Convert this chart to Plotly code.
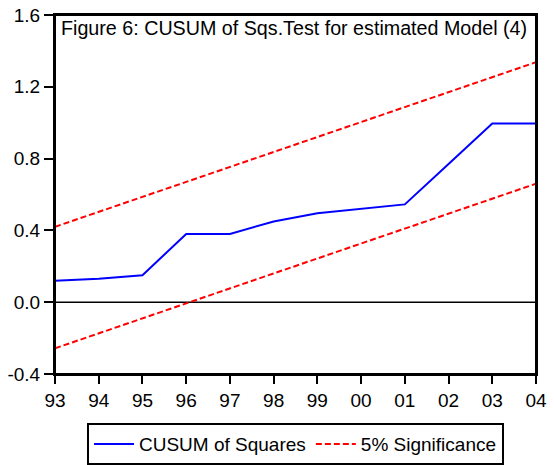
import plotly.graph_objects as go

years = [1993, 1994, 1995, 1996, 1997, 1998, 1999, 2000, 2001, 2002, 2003, 2004]
tick_labels = ["93", "94", "95", "96", "97", "98", "99", "00", "01", "02", "03", "04"]
cusum_sq = [0.12, 0.13, 0.15, 0.38, 0.38, 0.45, 0.495, 0.52, 0.545, 0.77, 0.995, 0.995]
upper_5 = [0.42, 0.503, 0.587, 0.67, 0.753, 0.837, 0.92, 1.003, 1.087, 1.17, 1.253, 1.337]
lower_5 = [-0.257, -0.173, -0.09, -0.007, 0.077, 0.16, 0.243, 0.327, 0.41, 0.493, 0.577, 0.66]
y_ticks = [-0.4, 0.0, 0.4, 0.8, 1.2, 1.6]
y_tick_labels = ["-0.4", "0.0", "0.4", "0.8", "1.2", "1.6"]

FONT = "Liberation Sans, Arial, sans-serif"

fig = go.Figure()
fig.add_trace(go.Scatter(x=years, y=cusum_sq, mode="lines", name="CUSUM of Squares",
                         line=dict(color="#0000FF", width=2)))
fig.add_trace(go.Scatter(x=years, y=upper_5, mode="lines", name="5% Significance",
                         line=dict(color="#FF0000", width=2, dash="6px,3px")))
fig.add_trace(go.Scatter(x=years, y=lower_5, mode="lines", name="5% Significance",
                         showlegend=False,
                         line=dict(color="#FF0000", width=2, dash="6px,3px")))

fig.add_hline(y=0, line=dict(color="black", width=1.5), layer="below")
# plot frame
fig.add_shape(type="rect", xref="paper", yref="paper", x0=0, x1=1, y0=0, y1=1,
              line=dict(color="black", width=2), fillcolor="rgba(0,0,0,0)",
              layer="above")

fig.update_layout(
    width=554, height=465,
    margin=dict(l=55, r=18, t=15, b=91, autoexpand=False),
    paper_bgcolor="white", plot_bgcolor="white",
    font=dict(family=FONT, color="black", size=19),
    showlegend=True,
    legend=dict(orientation="h", x=0.5, xanchor="center",
                y=0.09, yref="container", yanchor="top",
                bordercolor="black", borderwidth=2, bgcolor="white",
                font=dict(size=19, family=FONT), traceorder="normal",
                itemwidth=40),
    xaxis=dict(range=[1993, 2004], tickvals=years, ticktext=tick_labels,
               showgrid=False, zeroline=False, showline=True, linecolor="black",
               linewidth=2, mirror=True, ticks="outside", ticklen=8, tickwidth=2,
               tickcolor="black", tickfont=dict(size=19)),
    yaxis=dict(range=[-0.4, 1.6], tickvals=y_ticks, ticktext=y_tick_labels,
               showgrid=False, zeroline=False, showline=True, linecolor="black",
               linewidth=2, mirror=True, ticks="outside", ticklen=9, tickwidth=2,
               tickcolor="black", tickfont=dict(size=19)),
    annotations=[dict(text="Figure 6: CUSUM of Sqs.Test for estimated Model (4)",
                      xref="paper", yref="paper", x=0, y=1, xanchor="left",
                      yanchor="top", xshift=4, yshift=0, showarrow=False,
                      font=dict(size=19.7, family=FONT))],
)

fig.write_html("out.html", config={"displayModeBar": False},
               post_script="document.body.style.margin='0';document.body.style.padding='0';")
